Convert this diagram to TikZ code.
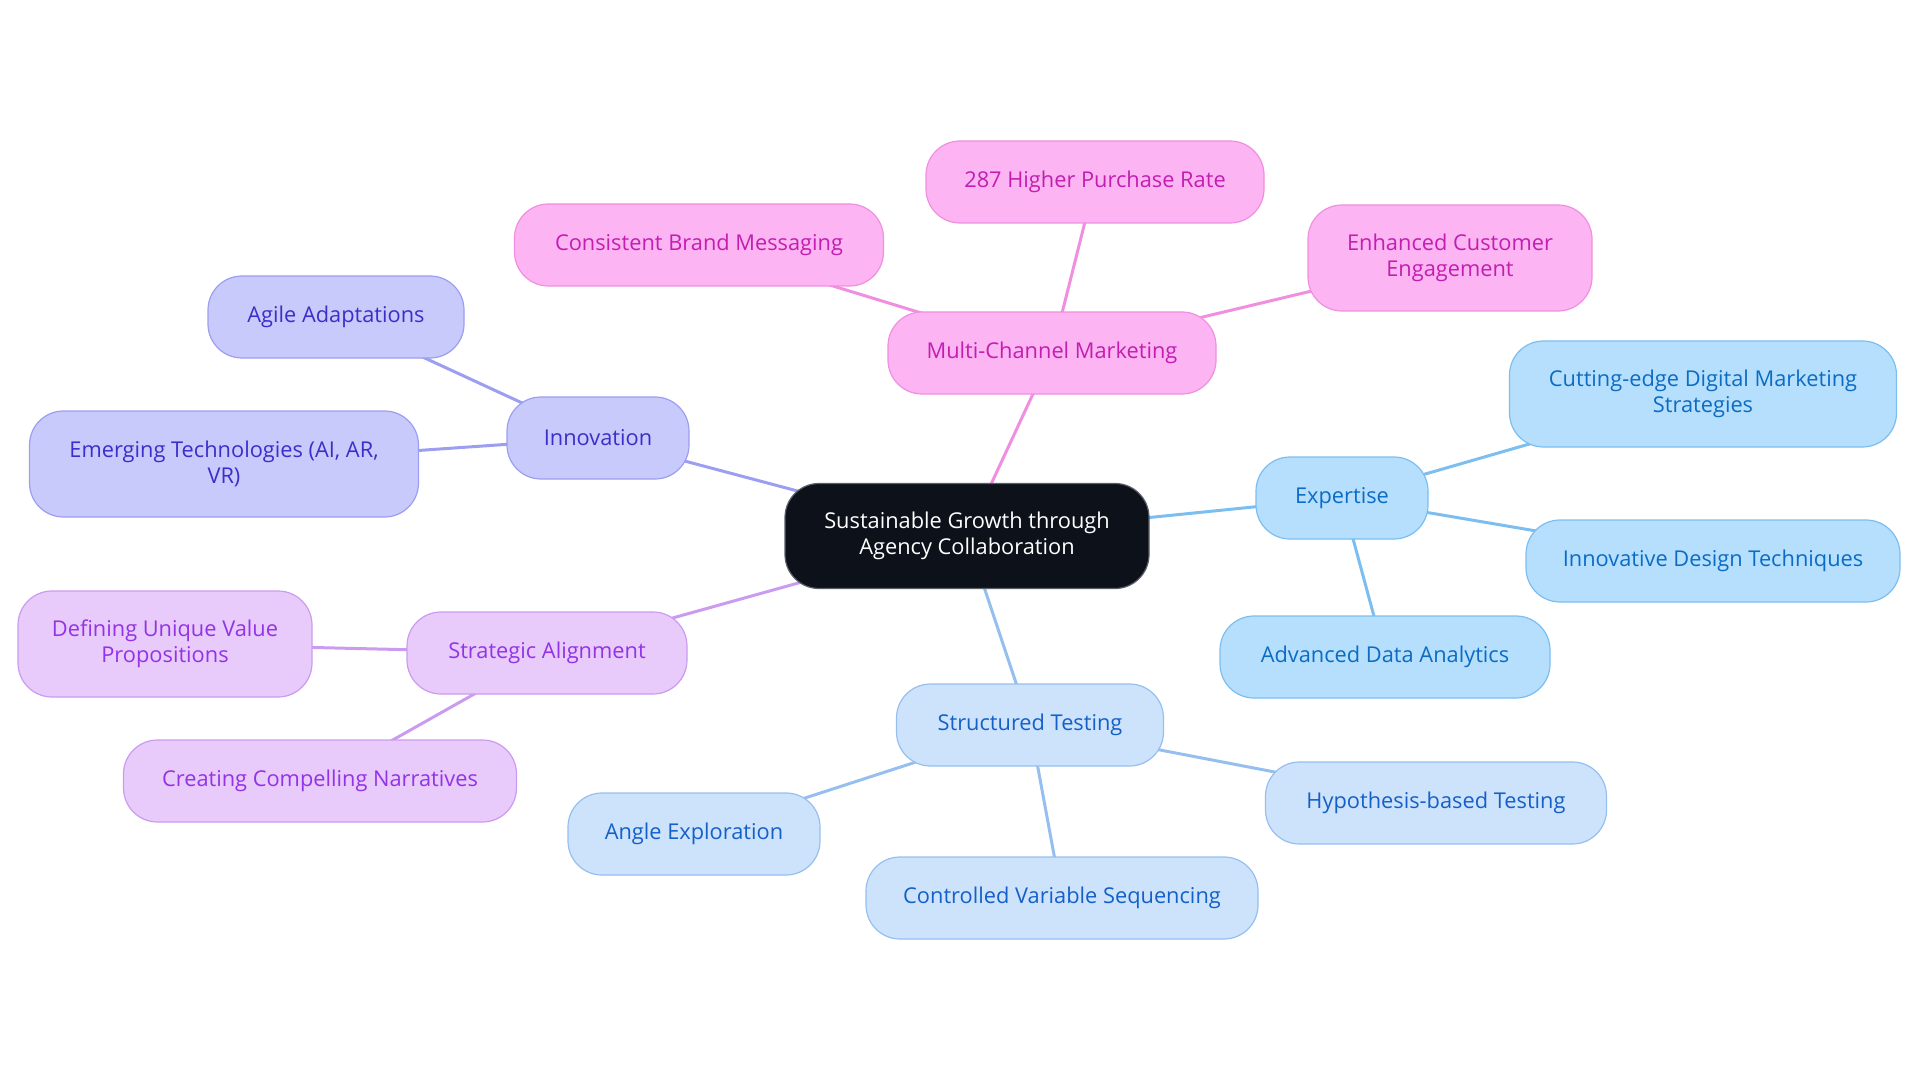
\documentclass[tikz,border=0pt]{standalone}
\usepackage{fontspec}
\setmainfont{Open Sans}
\usetikzlibrary{backgrounds}
\definecolor{pkF}{HTML}{FDB4F3}\definecolor{pkD}{HTML}{F08FE0}\definecolor{pkT}{HTML}{C21FB0}
\definecolor{puF}{HTML}{C8CAFC}\definecolor{puD}{HTML}{9C9EF0}\definecolor{puT}{HTML}{3A2FC8}
\definecolor{liF}{HTML}{E8CAFB}\definecolor{liD}{HTML}{CB9BF0}\definecolor{liT}{HTML}{9234E6}
\definecolor{bfF}{HTML}{B5DFFD}\definecolor{bfD}{HTML}{7CBEF0}\definecolor{bfT}{HTML}{0C6CC3}
\definecolor{blF}{HTML}{CDE3FB}\definecolor{blD}{HTML}{96BFF0}\definecolor{blT}{HTML}{1560C8}
\definecolor{ctF}{HTML}{0C111A}\definecolor{ctD}{HTML}{5A5E66}
\begin{document}
\begin{tikzpicture}[x=1pt,y=-1pt,
  box/.style={draw, rounded corners=34pt, line width=1.2pt, align=center, inner sep=0pt,
    font=\fontsize{21.8}{26}\selectfont, minimum height=82pt},
  tall/.style={minimum height=106pt},
  pk/.style={box, fill=pkF, draw=pkD, text=pkT},
  pu/.style={box, fill=puF, draw=puD, text=puT},
  li/.style={box, fill=liF, draw=liD, text=liT},
  bf/.style={box, fill=bfF, draw=bfD, text=bfT},
  bl/.style={box, fill=blF, draw=blD, text=blT},
  ct/.style={box, fill=ctF, draw=ctD, text=white, minimum height=105pt},
  lk/.style={line width=3pt}]
\useasboundingbox (0,0) rectangle (1920,1083);
\node[ct, minimum width=364pt] (c) at (967,536) {Sustainable Growth through\\Agency Collaboration};
\node[pk, minimum width=328pt] (mcm) at (1052,353) {Multi-Channel Marketing};
\node[pk, minimum width=338pt] (hpr) at (1095,182) {287 Higher Purchase Rate};
\node[pk, minimum width=369pt] (cbm) at (699,245) {Consistent Brand Messaging};
\node[pk, tall, minimum width=284pt] (ece) at (1450,258) {Enhanced Customer\\Engagement};
\node[bf, minimum width=172pt] (exp) at (1342,498) {Expertise};
\node[bf, tall, minimum width=387pt] (cdm) at (1703,394) {Cutting-edge Digital Marketing\\Strategies};
\node[bf, minimum width=374pt] (idt) at (1713,561) {Innovative Design Techniques};
\node[bf, minimum width=330pt] (ada) at (1385,657) {Advanced Data Analytics};
\node[bl, minimum width=267pt] (st) at (1030,725) {Structured Testing};
\node[bl, minimum width=341pt] (hbt) at (1436,803) {Hypothesis-based Testing};
\node[bl, minimum width=392pt] (cvs) at (1062,898) {Controlled Variable Sequencing};
\node[bl, minimum width=252pt] (ae) at (694,834) {Angle Exploration};
\node[li, minimum width=280pt] (sa) at (547,653) {Strategic Alignment};
\node[li, tall, minimum width=294pt] (duv) at (165,644) {Defining Unique Value\\Propositions};
\node[li, minimum width=393pt] (ccn) at (320,781) {Creating Compelling Narratives};
\node[pu, minimum width=182pt] (inn) at (598,438) {Innovation};
\node[pu, minimum width=256pt] (aa) at (336,317) {Agile Adaptations};
\node[pu, tall, minimum width=389pt] (et) at (224,464) {Emerging Technologies (AI, AR,\\VR)};
\begin{scope}[on background layer]
\draw[lk, pkD] (c.center) -- (mcm.center);
\draw[lk, pkD] (mcm.center) -- (hpr.center);
\draw[lk, pkD] (mcm.center) -- (cbm.center);
\draw[lk, pkD] (mcm.center) -- (ece.center);
\draw[lk, bfD] (c.center) -- (exp.center);
\draw[lk, bfD] (exp.center) -- (cdm.center);
\draw[lk, bfD] (exp.center) -- (idt.center);
\draw[lk, bfD] (exp.center) -- (ada.center);
\draw[lk, blD] (c.center) -- (st.center);
\draw[lk, blD] (st.center) -- (hbt.center);
\draw[lk, blD] (st.center) -- (cvs.center);
\draw[lk, blD] (st.center) -- (ae.center);
\draw[lk, liD] (c.center) -- (sa.center);
\draw[lk, liD] (sa.center) -- (duv.center);
\draw[lk, liD] (sa.center) -- (ccn.center);
\draw[lk, puD] (c.center) -- (inn.center);
\draw[lk, puD] (inn.center) -- (aa.center);
\draw[lk, puD] (inn.center) -- (et.center);
\end{scope}
\end{tikzpicture}
\end{document}
